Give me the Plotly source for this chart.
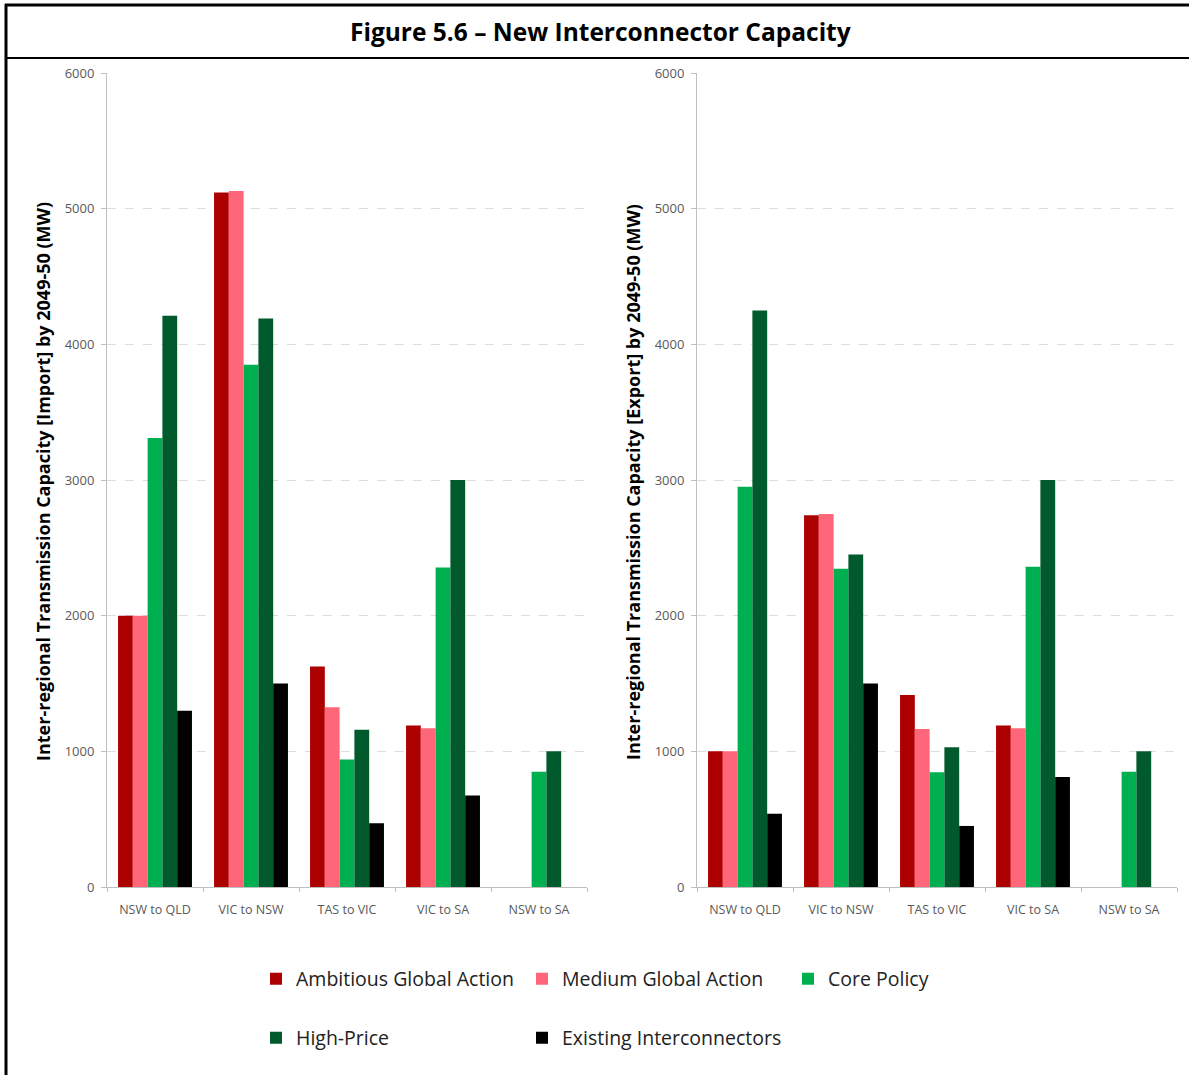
import plotly.graph_objects as go

# Interconnector corridors
corridors = ["NSW to QLD", "VIC to NSW", "TAS to VIC", "VIC to SA", "NSW to SA"]

# Scenario names
scenarios = ["Ambitious Global Action", "Medium Global Action", "Core Policy",
             "High-Price", "Existing Interconnectors"]

# Import capacity by 2049-50 (MW)
import_aga = [2000, 5120, 1625, 1190, None]
import_mga = [2000, 5130, 1325, 1170, None]
import_core = [3310, 3850, 940, 2355, 850]
import_high = [4210, 4190, 1160, 3000, 1000]
import_existing = [1300, 1500, 470, 675, None]

# Export capacity by 2049-50 (MW)
export_aga = [1000, 2740, 1415, 1190, None]
export_mga = [1000, 2750, 1165, 1170, None]
export_core = [2950, 2345, 845, 2360, 850]
export_high = [4250, 2450, 1030, 3000, 1000]
export_existing = [540, 1500, 450, 810, None]

colors = ["#AD0000", "#FF6679", "#00B050", "#005A2B", "#000000"]

W, H = 1189, 1075


def px(x):
    return x / W


def py(y):
    return 1 - y / H


FONT = "Open Sans"

fig = go.Figure()

import_series = [import_aga, import_mga, import_core, import_high, import_existing]
export_series = [export_aga, export_mga, export_core, export_high, export_existing]

for i, name in enumerate(scenarios):
    leg = "legend" if i < 3 else "legend2"
    fig.add_trace(go.Bar(
        x=corridors, y=import_series[i], name=name,
        marker=dict(color=colors[i], line=dict(width=0)),
        xaxis="x", yaxis="y", legend=leg, showlegend=True,
    ))
for i, name in enumerate(scenarios):
    leg = "legend" if i < 3 else "legend2"
    fig.add_trace(go.Bar(
        x=corridors, y=export_series[i], name=name,
        marker=dict(color=colors[i], line=dict(width=0)),
        xaxis="x2", yaxis="y2", legend=leg, showlegend=False,
    ))

y_dom = [py(887), py(73)]

xaxis_common = dict(
    type="category", showline=True, linecolor="#BFBFBF", linewidth=1,
    ticks="outside", tickson="boundaries", ticklen=4, tickcolor="#BFBFBF",
    tickfont=dict(family=FONT, size=12.5, color="#595959"),
    ticklabelstandoff=11, showgrid=False, automargin=False, fixedrange=True,
)
yaxis_common = dict(
    range=[0, 6000], dtick=1000, showline=True, linecolor="#BFBFBF", linewidth=1,
    ticks="outside", ticklen=5, tickcolor="#BFBFBF",
    tickfont=dict(family=FONT, size=13, color="#595959"),
    ticklabelstandoff=4, showgrid=True, gridcolor="#DDDDDD", gridwidth=1,
    griddash="dash", zeroline=False, automargin=False, fixedrange=True,
    domain=y_dom,
)

legend_common = dict(
    orientation="h", xanchor="left", yanchor="middle",
    entrywidth=221, entrywidthmode="pixels", itemwidth=30,
    font=dict(family=FONT, size=19.5, color="#222222"), bgcolor="rgba(0,0,0,0)",
)

fig.update_layout(
    width=W, height=H, autosize=False,
    margin=dict(l=0, r=0, t=0, b=0),
    paper_bgcolor="white", plot_bgcolor="white",
    barmode="group", bargap=0.23, bargroupgap=0,
    font=dict(family=FONT, color="#222222"),
    xaxis=dict(domain=[px(107), px(587)], anchor="y", **xaxis_common),
    yaxis=dict(anchor="x", **yaxis_common),
    xaxis2=dict(domain=[px(697), px(1177)], anchor="y2", **xaxis_common),
    yaxis2=dict(anchor="x2", **yaxis_common),
    legend=dict(x=px(256), y=py(979), **legend_common),
    legend2=dict(x=px(256), y=py(1038), **legend_common),
)

# Frame around the figure and the title band
frame = [
    dict(x0=px(6), x1=px(6), y0=py(4), y1=0, w=3),
    dict(x0=px(5), x1=1, y0=py(5), y1=py(5), w=3),
    dict(x0=px(5), x1=1, y0=py(58), y1=py(58), w=2),
]
for f in frame:
    fig.add_shape(type="line", xref="paper", yref="paper",
                  x0=f["x0"], x1=f["x1"], y0=f["y0"], y1=f["y1"],
                  line=dict(color="black", width=f["w"]))

fig.add_annotation(
    text="<b>Figure 5.6 – New Interconnector Capacity</b>",
    xref="paper", yref="paper", x=px(600), y=py(32),
    xanchor="center", yanchor="middle", showarrow=False,
    font=dict(family=FONT, size=24.5, color="black"),
)

axis_titles = [
    ("Inter-regional Transmission Capacity [Import] by 2049-50 (MW)", 43),
    ("Inter-regional Transmission Capacity [Export] by 2049-50 (MW)", 633),
]
for text, xpos in axis_titles:
    fig.add_annotation(
        text=f"<b>{text}</b>", xref="paper", yref="paper",
        x=px(xpos), y=py(482), xanchor="center", yanchor="middle",
        textangle=-90, showarrow=False,
        font=dict(family=FONT, size=18, color="black"),
    )

fig.write_html("out.html", config={"responsive": False, "displayModeBar": False},
               default_width="1189px", default_height="1075px")
